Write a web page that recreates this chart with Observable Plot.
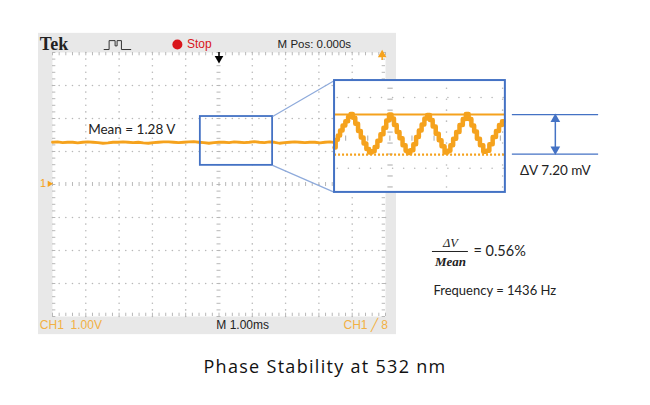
<!DOCTYPE html>
<html><head><meta charset="utf-8">
<script src="https://cdn.jsdelivr.net/npm/d3@7"></script>
<script src="https://cdn.jsdelivr.net/npm/@observablehq/plot@0.6"></script>
<style>
body{margin:0;background:#fff;}
#chart svg{display:block;}
#title{font-family:"Open Sans",sans-serif;font-size:18px;letter-spacing:1.3px;text-align:center;width:650px;margin-top:10px;line-height:22px;color:#111;}
</style></head><body>
<div id="chart"></div>
<div id="title">Phase Stability at 532 nm</div>
<script>
// ---- data ----
// main oscilloscope trace (V), sampled evenly across the 10 ms screen
const traceVolts = [1.28,1.29,1.27,1.28,1.28,1.26,1.28,1.29,1.28,1.27,1.25,1.26,1.28,1.28,1.29,1.28,1.27,1.28,1.26,1.25,
  1.27,1.28,1.29,1.29,1.28,1.27,1.28,1.29,1.30,1.28,1.27,1.25,1.27,1.28,1.28,1.27,1.29,1.28,1.27,1.28,
  1.30,1.28,1.27,1.29,1.28,1.25,1.27,1.28,1.29,1.28,1.27,1.28,1.28,1.26,1.28,1.29,1.27,1.28,1.28,1.27,
  1.29,1.28,1.28,1.27,1.28,1.28,1.29];
// zoomed ripple (ms, mV)
const rippleTime = [0.00,0.04,0.08,0.12,0.17,0.22,0.27,0.31,0.35,0.40,0.45,0.50,0.55,0.60,0.65,0.70,0.75,0.80,0.86,0.91,
  0.96,1.01,1.05,1.10,1.15,1.20,1.26,1.31,1.34,1.40,1.45,1.50,1.55,1.60,1.65,1.70,1.75,1.80,1.86,1.91,
  1.96,2.02,2.07,2.12,2.17,2.23,2.29,2.35,2.40,2.45,2.50,2.55,2.60,2.66,2.72,2.77,2.83,2.89,2.95,3.00,3.06];
const rippleMv = [1.2,2.6,3.4,4.3,5.2,6.0,6.8,7.3,6.6,5.5,4.2,3.0,1.9,0.9,0.3,0.5,1.3,2.4,3.6,4.8,
  6.1,7.2,6.5,5.3,4.0,2.9,1.6,0.6,0.2,0.7,1.8,3.1,4.3,5.4,6.5,7.1,6.2,5.0,3.7,2.5,
  1.4,0.3,0.6,1.6,2.8,4.0,5.3,6.4,7.3,6.4,5.2,4.1,2.8,1.6,0.4,0.6,1.8,3.1,4.2,5.3,6.0];
const rippleLevels = [7.2, 0];          // mV: max / min of ripple
const meanVolts = 1.28;
const deltaMv = 7.20;
const ratioPct = 0.56;
const freqHz = 1436;
const headerLabels = ["Tek", "Stop", "M Pos: 0.000s"];
const footerLabels = ["CH1\u00a0\u00a01.00V", "M 1.00ms", "CH1 \u2571 8"];
const annotationLabels = [`Mean = ${meanVolts.toFixed(2)} V`, `\u0394V ${deltaMv.toFixed(2)} mV`, `Frequency = ${freqHz} Hz`];
const formulaLabels = ["\u0394V", "Mean", `= ${ratioPct.toFixed(2)}%`];

// ---- styles / layout ----
const ORANGE = "#f5a21d", ORANGE2 = "#f2b043", BLUE = "#4472c4", LBLUE = "#8eaadb", GRID = "#b8b8b8";
const SCOPE = '"Liberation Sans", Arial, sans-serif';
const NOTE = 'Lato, "Open Sans", sans-serif';
const MATH = '"Liberation Serif", "DejaVu Serif", serif';

const insetBox = {x1: 3.47, x2: 8.60, y1: -0.24, y2: 3.15};
const insetT = [0, 3.09], insetMv = [-7.0, 13.4];
const ix = t => insetBox.x1 + (t - insetT[0]) / (insetT[1] - insetT[0]) * (insetBox.x2 - insetBox.x1);
const iy = v => insetBox.y1 + (v - insetMv[0]) / (insetMv[1] - insetMv[0]) * (insetBox.y2 - insetBox.y1);
const zoomBox = {x1: -0.56, x2: 1.61, y1: 0.58, y2: 2.06};

const trace = traceVolts.map((v, i) => ({t: -5 + i * 10 / (traceVolts.length - 1), v}));
const ripple = rippleTime.map((t, i) => ({t, v: rippleMv[i]}));

// grid helpers
const steps = (a, b, n) => d3.range(Math.round(a * n), Math.round(b * n) + 1).map(i => i / n);
const dotsV = [-4,-3,-2,-1,1,2,3,4].flatMap(x => steps(-4, 4, 5).map(y => ({x, y})));
const dotsH = [-3,-2,-1,1,2,3].flatMap(y => steps(-5, 5, 5).map(x => ({x, y})));
const minY = steps(-4, 4, 5), minX = steps(-5, 5, 5);
const iDotsV = [2.025, 3.04].flatMap(t => d3.range(-6, 14, 2).map(v => ({t, v})));
const iDotsH = [10.3, -2.6].flatMap(v => d3.range(0.05, 3.09, 0.2).map(t => ({t, v})));

const c = v => () => v;

const chart = Plot.plot({
  width: 650, height: 345,
  marginLeft: 52, marginRight: 265, marginTop: 52, marginBottom: 29,
  x: {domain: [-5, 5], axis: null},
  y: {domain: [-4, 4], axis: null},
  style: {background: "white", overflow: "visible"},
  marks: [
    // scope bezel
    Plot.rect([0], {x1: c(-5.42), x2: c(5.33), y1: c(-4.55), y2: c(4.58), fill: "#e8e8e8"}),
    Plot.frame({fill: "white", stroke: "none"}),
    // grid
    Plot.dot(dotsV, {x: "x", y: "y", r: 0.8, fill: GRID, stroke: null}),
    Plot.dot(dotsH, {x: "x", y: "y", r: 0.8, fill: GRID, stroke: null}),
    Plot.ruleY(minY, {y: d => d, x1: c(-0.06), x2: c(0.06), stroke: GRID}),
    Plot.ruleX(minX, {x: d => d, y1: c(-0.06), y2: c(0.06), stroke: GRID}),
    Plot.ruleY(minY, {y: d => d, x1: c(-5), x2: c(-4.9), stroke: GRID}),
    Plot.ruleY(minY, {y: d => d, x1: c(4.9), x2: c(5), stroke: GRID}),
    Plot.ruleX(minX, {x: d => d, y1: c(3.9), y2: c(4), stroke: GRID}),
    Plot.ruleX(minX, {x: d => d, y1: c(-4), y2: c(-3.9), stroke: GRID}),
    // trace
    Plot.line(trace, {x: "t", y: "v", stroke: ORANGE, strokeWidth: 2.8}),
    // markers
    Plot.ruleX([0], {x: d => d, y1: c(4.0), y2: c(3.86), stroke: "#000", strokeWidth: 1.5}),
    Plot.dot([0], {x: d => d, y: c(3.82), symbol: "triangle", rotate: 180, r: 3.2, fill: "#000", stroke: null}),
    Plot.ruleX([4.9], {x: d => d, y1: c(3.93), y2: c(3.76), stroke: ORANGE, strokeWidth: 1.5}),
    Plot.dot([4.9], {x: d => d, y: c(3.93), symbol: "triangle", r: 3.2, fill: ORANGE, stroke: null}),
    Plot.text(["1"], {x: c(-5.28), y: c(0.02), text: d => d, fill: ORANGE, fontSize: 11, fontFamily: SCOPE}),
    Plot.dot([0], {x: c(-5.09), y: c(0.02), symbol: "triangle", rotate: 90, r: 2.3, fill: ORANGE, stroke: null}),
    // header
    Plot.text([headerLabels[0]], {x: c(-5.38), y: c(4.24), text: d => d, textAnchor: "start", fontSize: 18, fontWeight: "bold", fontFamily: MATH, fill: "#222"}),
    Plot.line([[-3.45,4.09],[-3.3,4.09],[-3.3,4.36],[-3.12,4.36],[-3.12,4.2],[-3.06,4.2],[-3.06,4.36],[-2.93,4.36],[-2.93,4.09],[-2.65,4.09]], {x: d => d[0], y: d => d[1], stroke: "#333", strokeWidth: 1}),
    Plot.dot([0], {x: c(-1.25), y: c(4.24), r: 5, fill: "#d9161c", stroke: null}),
    Plot.text([headerLabels[1]], {x: c(-0.96), y: c(4.24), text: d => d, textAnchor: "start", fontSize: 12, fill: "#d9161c", fontFamily: SCOPE}),
    Plot.text([headerLabels[2]], {x: c(1.76), y: c(4.24), text: d => d, textAnchor: "start", fontSize: 11.5, fill: "#222", fontFamily: SCOPE}),
    // footer
    Plot.text([footerLabels[0]], {x: c(-5.38), y: c(-4.27), text: d => d, textAnchor: "start", fontSize: 12, fill: ORANGE2, fontFamily: SCOPE}),
    Plot.text([footerLabels[1]], {x: c(-0.08), y: c(-4.27), text: d => d, textAnchor: "start", fontSize: 12, fill: "#222", fontFamily: SCOPE}),
    Plot.text([footerLabels[2]], {x: c(3.74), y: c(-4.27), text: d => d, textAnchor: "start", fontSize: 12, fill: ORANGE2, fontFamily: SCOPE}),
    // mean label
    Plot.text([annotationLabels[0]], {x: c(-3.93), y: c(1.67), text: d => d, textAnchor: "start", fontSize: 13.5, fill: "#222", fontFamily: NOTE}),
    // zoom box and connectors
    Plot.rect([zoomBox], {x1: "x1", x2: "x2", y1: "y1", y2: "y2", fill: "none", stroke: BLUE, strokeWidth: 1.8}),
    Plot.link([[zoomBox.x2, zoomBox.y2, insetBox.x1, insetBox.y2], [zoomBox.x2, zoomBox.y1, insetBox.x1, insetBox.y1]],
      {x1: d => d[0], y1: d => d[1], x2: d => d[2], y2: d => d[3], stroke: LBLUE, strokeWidth: 1.2}),
    // inset
    Plot.rect([insetBox], {x1: "x1", x2: "x2", y1: "y1", y2: "y2", fill: "white", stroke: null}),
    Plot.dot(iDotsV, {x: d => ix(d.t), y: d => iy(d.v), r: 0.8, fill: GRID, stroke: null}),
    Plot.dot(iDotsH, {x: d => ix(d.t), y: d => iy(d.v), r: 0.8, fill: GRID, stroke: null}),
    Plot.ruleY(d3.range(-6, 14, 2), {y: d => iy(d), x1: c(ix(1.013) - 0.08), x2: c(ix(1.013) + 0.08), stroke: GRID, strokeWidth: 1.2}),
    Plot.ruleX(d3.range(0.2, 3.09, 0.4), {x: d => ix(d), y1: c(iy(2.82) - 0.08), y2: c(iy(2.82) + 0.08), stroke: GRID, strokeWidth: 1.2}),
    Plot.ruleY([rippleLevels[1]], {y: d => iy(d - 0.1), x1: c(insetBox.x1), x2: c(insetBox.x2), stroke: ORANGE, strokeWidth: 2.2, strokeDasharray: "2,2"}),
    Plot.line(ripple, {x: d => ix(d.t), y: d => iy(d.v), stroke: ORANGE, strokeWidth: 4.5, curve: "step"}),
    Plot.ruleY([rippleLevels[0]], {y: d => iy(d), x1: c(insetBox.x1), x2: c(insetBox.x2), stroke: ORANGE, strokeWidth: 2}),
    Plot.rect([insetBox], {x1: "x1", x2: "x2", y1: "y1", y2: "y2", fill: "none", stroke: BLUE, strokeWidth: 2}),
    // delta V annotation
    Plot.ruleY(rippleLevels, {y: d => iy(d), x1: c(8.81), x2: c(11.4), stroke: BLUE, strokeWidth: 1.2}),
    Plot.ruleX([10.1], {x: d => d, y1: c(iy(rippleLevels[1]) + 0.15), y2: c(iy(rippleLevels[0]) - 0.15), stroke: BLUE, strokeWidth: 1.5}),
    Plot.dot([10.1], {x: d => d, y: c(iy(rippleLevels[0]) - 0.14), symbol: "triangle", r: 3.6, fill: BLUE, stroke: null}),
    Plot.dot([10.1], {x: d => d, y: c(iy(rippleLevels[1]) + 0.14), symbol: "triangle", rotate: 180, r: 3.6, fill: BLUE, stroke: null}),
    Plot.text([annotationLabels[1]], {x: c(10.1), y: c(0.42), text: d => d, fontSize: 13.5, fill: "#222", fontFamily: NOTE}),
    // formula
    Plot.text([formulaLabels[0]], {x: c(6.95), y: c(-1.76), text: d => d, fontSize: 12.5, fontStyle: "italic", fill: "#222", fontFamily: MATH}),
    Plot.ruleY([-2.03], {y: d => d, x1: c(6.41), x2: c(7.49), stroke: "#222", strokeWidth: 1}),
    Plot.text([formulaLabels[1]], {x: c(6.95), y: c(-2.33), text: d => d, fontSize: 13, fontStyle: "italic", fontWeight: "bold", fill: "#222", fontFamily: MATH}),
    Plot.text([formulaLabels[2]], {x: c(7.64), y: c(-2.03), text: d => d, textAnchor: "start", fontSize: 14.5, fill: "#222", fontFamily: NOTE}),
    Plot.text([annotationLabels[2]], {x: c(6.44), y: c(-3.21), text: d => d, textAnchor: "start", fontSize: 13, fill: "#222", fontFamily: NOTE})
  ]
});
document.getElementById("chart").append(chart);
</script>
</body></html>
